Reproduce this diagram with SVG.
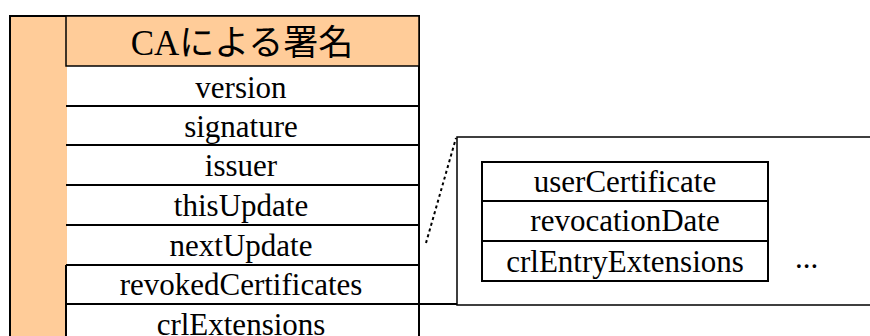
<svg xmlns="http://www.w3.org/2000/svg" width="870" height="336" viewBox="0 0 870 336">
<style>
.t{font-family:"Liberation Serif","Times New Roman",serif;font-size:31px;fill:#000;text-anchor:middle}
.h{font-family:"Liberation Serif","Noto Sans CJK JP",serif;font-size:35px;fill:#000;text-anchor:middle}
.jp{font-family:"Noto Sans CJK JP",sans-serif}
.cell{fill:#fff;stroke:#000;stroke-width:2}
.ln{stroke:#000;stroke-width:2;fill:none}
.or{fill:#FFCC99}
</style>
<rect x="0" y="0" width="870" height="336" fill="#fff"/>
<g id="crl">
<rect class="or" x="10" y="16" width="409" height="330"/>
<rect x="67" y="66" width="352" height="280" fill="#fff"/>
<path class="ln" d="M10,346 V16 H419 V346"/>
<rect x="66" y="16" width="353" height="50" fill="#FFCC99" stroke="#000" stroke-width="1.5"/>
<text class="h" x="242" y="55">CA<tspan class="jp">による署名</tspan></text>
</g>
<g id="row-version"><line class="ln" x1="66" y1="106" x2="419" y2="106"/><text class="t" x="241" y="98">version</text></g>
<g id="row-signature"><line class="ln" x1="66" y1="145" x2="419" y2="145"/><text class="t" x="241" y="137">signature</text></g>
<g id="row-issuer"><line class="ln" x1="66" y1="185" x2="419" y2="185"/><text class="t" x="241" y="176">issuer</text></g>
<g id="row-thisUpdate"><line class="ln" x1="66" y1="225" x2="419" y2="225"/><text class="t" x="241" y="216">thisUpdate</text></g>
<g id="row-nextUpdate"><line class="ln" x1="66" y1="265" x2="419" y2="265"/><text class="t" x="241" y="256">nextUpdate</text></g>
<g id="row-revoked"><path class="ln" d="M66,265 V304 H419"/><text class="t" x="241" y="295">revokedCertificates</text></g>
<g id="row-crlExtensions"><path class="ln" d="M66,304 V346"/><text class="t" x="241" y="335">crlExtensions</text></g>
<g id="entry-box">
<path d="M880,137 H457 V305 H880" fill="#fff" stroke="#000" stroke-width="1.5"/>
<text class="t" x="795" y="268" style="text-anchor:start">...</text>
</g>
<g id="entry-table">
<rect class="cell" x="482" y="162" width="286" height="119"/>
<line class="ln" x1="482" y1="201" x2="768" y2="201"/>
<line class="ln" x1="482" y1="241" x2="768" y2="241"/>
<text class="t" x="625" y="192">userCertificate</text>
<text class="t" x="625" y="231">revocationDate</text>
<text class="t" x="625" y="272">crlEntryExtensions</text>
</g>
<g id="connectors">
<line x1="426" y1="243" x2="456" y2="138" stroke="#000" stroke-width="2" stroke-dasharray="3 3"/>
<line class="ln" x1="419" y1="304" x2="457" y2="304"/>
</g>
</svg>
